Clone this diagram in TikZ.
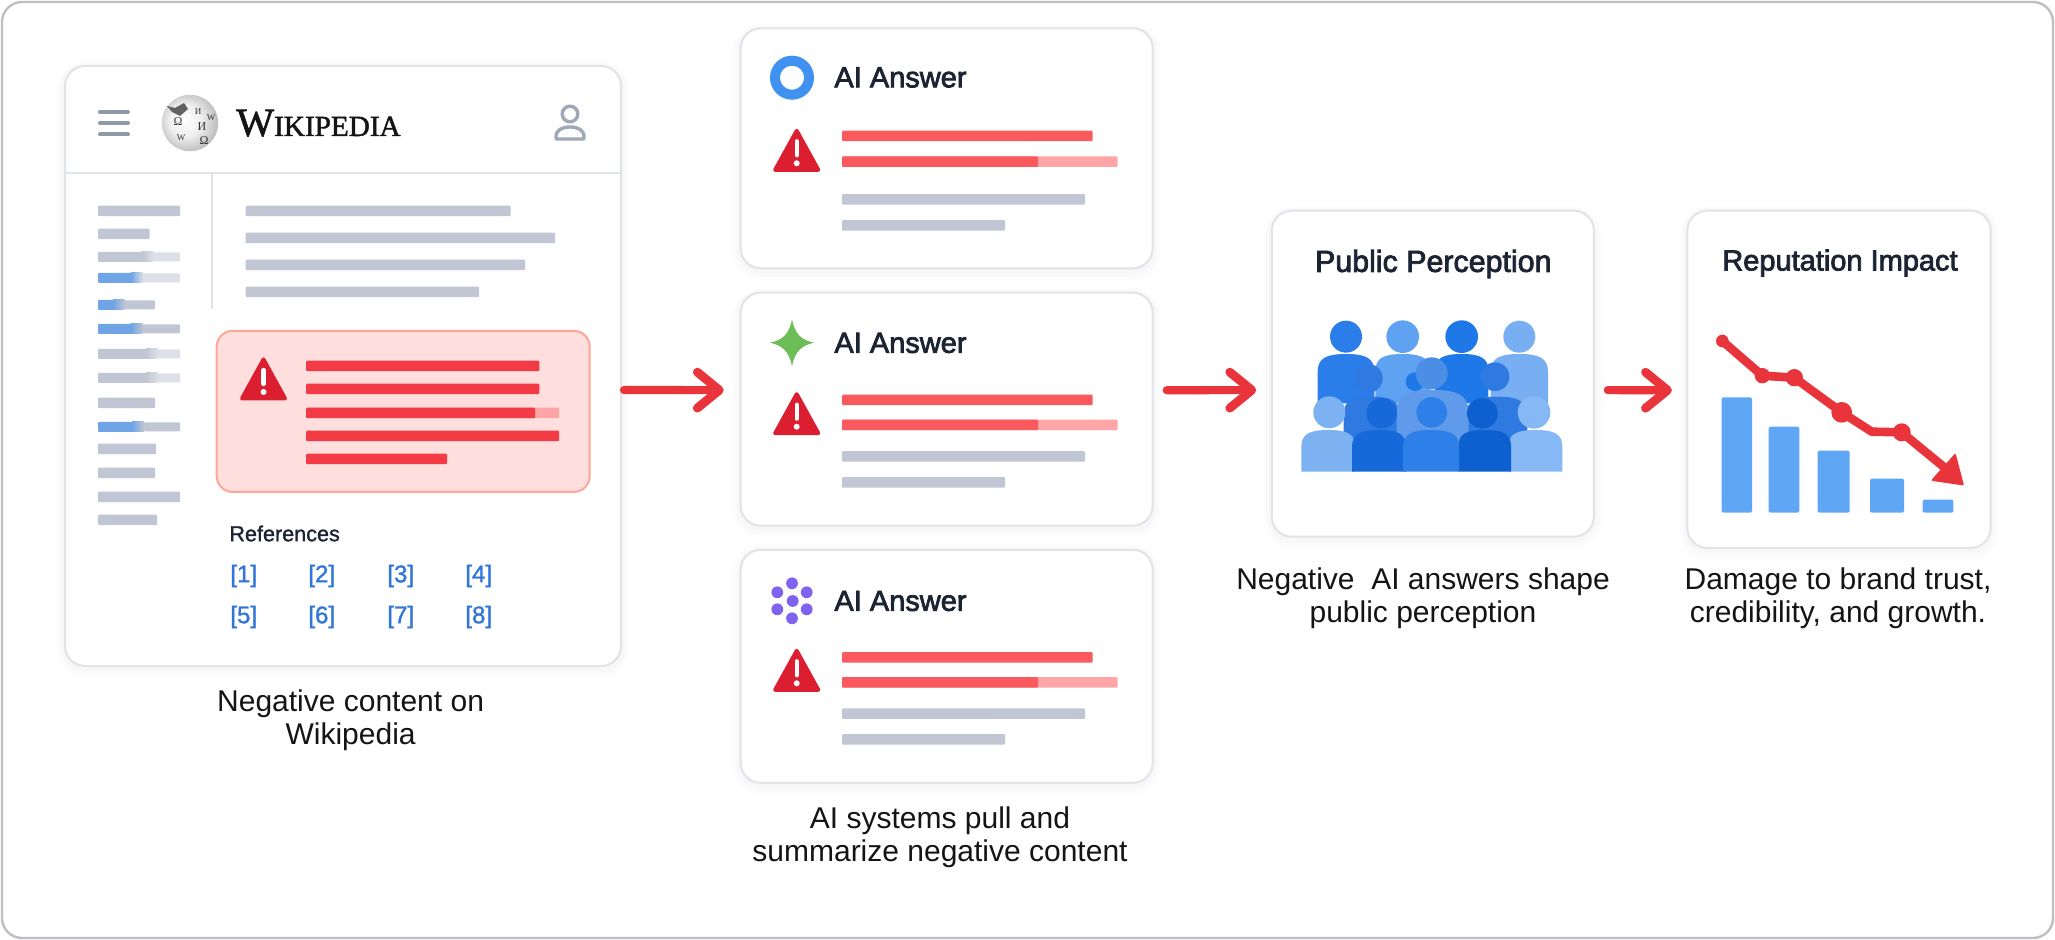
\documentclass[tikz,border=0pt]{standalone}
\usepackage{fontspec}
\setmainfont{Liberation Sans}
\newfontfamily\wikifont[FakeBold=1.6]{Liberation Serif}
\newfontfamily\plainserif{Liberation Serif}
\newfontfamily\semifont[FakeBold=2.6]{Liberation Sans}
\newfontfamily\medfont[FakeBold=1.2]{Liberation Sans}
\usetikzlibrary{arrows.meta,calc}
\definecolor{edgec}{HTML}{E0E3E8}
\definecolor{frameg}{HTML}{BDBFC2}
\definecolor{barg}{HTML}{C0C6D3}
\definecolor{barl}{HTML}{DDE0E6}
\definecolor{sblue}{HTML}{6FA4E6}
\definecolor{redb}{HTML}{F23B44}
\definecolor{cred}{HTML}{FA5A5E}
\definecolor{cpale}{HTML}{FDA5A7}
\definecolor{warnred}{HTML}{DC1F30}
\definecolor{flowred}{HTML}{EA343B}
\definecolor{ink}{HTML}{1C2333}
\definecolor{refblue}{HTML}{2F76D8}
\definecolor{icong}{HTML}{8F99A8}
\definecolor{usric}{HTML}{9EA8B6}
\definecolor{barb}{HTML}{5FA6F5}
\pgfdeclareradialshading{globeshade}{\pgfpoint{-6bp}{3bp}}{color(0bp)=(white);color(14bp)=(black!6);color(26bp)=(black!24);color(38bp)=(black!42);color(50bp)=(black!58)}
\tikzset{
  card/.style={draw=edgec,line width=1pt,fill=white,rounded corners=10pt,inner sep=0pt,
    preaction={draw=black,draw opacity=.008,line width=9pt,transform canvas={yshift=-2pt}},
    preaction={draw=black,draw opacity=.01,line width=6pt,transform canvas={yshift=-1.5pt}},
    preaction={draw=black,draw opacity=.012,line width=3pt,transform canvas={yshift=-1pt}}},
  flow/.style={draw=flowred,line width=4.1pt,line cap=round,
    -{Straight Barb[length=11pt,width=18pt,round,line width=4.4pt]}},
  caption/.style={align=center,font=\fontsize{15}{16.5}\selectfont,text=black!92,inner sep=0pt},
  cardtitle/.style={font=\semifont\fontsize{14.5}{16}\selectfont,text=ink,inner sep=0pt},
  refn/.style={font=\medfont\fontsize{12}{14}\selectfont,text=refblue,anchor=west,inner sep=0pt},
  globeglyph/.style={inner sep=0pt,font=\plainserif\fontsize{6}{6}\selectfont,text=black!80}
}
% horizontal bar: x0, yc, x1, colour
\newcommand\hb[4]{\fill[#4,rounded corners=.5pt] (#1,{#2-5.25}) rectangle (#3,{#2+5.25});}
% faded bar: x0,yc,xm,x1,colour1,colour2
\newcommand\fb[6]{\fill[#5,rounded corners=.5pt] (#1,{#2-5}) rectangle (#3,{#2+5});
  \shade[left color=#5,right color=#6] (#3-8,{#2-5}) rectangle (#3+4,{#2+5});
  \fill[#6,rounded corners=.5pt] (#3+4,{#2-4.5}) rectangle (#4,{#2+4.5});}
% warning triangle: centre x, top y
\newcommand\warn[2]{\fill[warnred,line join=round,draw=warnred,line width=2pt]
    (#1,{#2+2.5}) -- ({#1+21.5},{#2+41.5}) -- ({#1-21.5},{#2+41.5}) -- cycle;
  \draw[white,line width=2.1pt,line cap=round] (#1,{#2+13}) -- (#1,{#2+27});
  \fill[white] (#1,{#2+35}) circle[radius=3];}
% AI card contents
\newcommand\cardbars[5]{\warn{796.7}{#1}
  \hb{842}{#2}{1092.7}{cred}
  \hb{842}{#3}{1117.7}{cpale}
  \hb{842}{#3}{1038}{cred}
  \hb{842}{#4}{1085}{barg}
  \hb{842}{#5}{1005}{barg}}
% person: cx, half width, top, bottom, colour (crowd units)
\newcommand\pbody[5]{\fill[#5] ({#1-#2},#4) -- ({#1-#2},{#3+0.62*#2})
  .. controls ({#1-#2},{#3+0.14*#2}) and ({#1-0.68*#2},#3) .. (#1,#3)
  .. controls ({#1+0.68*#2},#3) and ({#1+#2},{#3+0.14*#2}) .. ({#1+#2},{#3+0.62*#2})
  -- ({#1+#2},#4) -- cycle;}
\begin{document}
\begin{tikzpicture}[x=0.5pt,y=-0.5pt]
\useasboundingbox (0,0) rectangle (2055,940);
\fill[white] (0,0) rectangle (2055,940);
\node[draw=frameg,line width=1.2pt,fill=white,rounded corners=10pt,minimum width=1025.5pt,minimum height=468pt,inner sep=0pt] (frame) at (1027.5,470) {};

% cards
\node[card,minimum width=278pt,minimum height=300pt] (wiki) at (343,366) {};
\node[card,minimum width=206pt,minimum height=120pt] (ai1) at (946.7,148.3) {};
\node[card,minimum width=206pt,minimum height=116.5pt] (ai2) at (946.7,409.2) {};
\node[card,minimum width=206pt,minimum height=116.5pt] (ai3) at (946.7,666.3) {};
\node[card,minimum width=161pt,minimum height=163pt] (pub) at (1432.8,373.7) {};
\node[card,minimum width=151.7pt,minimum height=168.6pt] (rep) at (1839,379.3) {};

% connectors
\draw[flow,shorten <=1pt,shorten >=8pt] ([yshift=-12pt]wiki.east) -- ([yshift=9.5pt]ai2.west);
\draw[flow,shorten <=6.5pt,shorten >=7.3pt] ([yshift=9.5pt]ai2.east) -- ([yshift=-8.2pt]pub.west);
\draw[flow,shorten <=6.5pt,shorten >=7.2pt] ([yshift=-8.2pt]pub.east) -- ([yshift=-5.5pt]rep.west);

% wiki header
\draw[edgec,line width=.9pt] (65,173) -- (621,173);
\draw[edgec,line width=.7pt] (212,173) -- (212,309);
\foreach \yy in {112,123.3,134.5}{\draw[icong,line width=2pt,line cap=round] (100,\yy) -- (128,\yy);}
\shade[shading=globeshade] (190,123) circle[radius=28.2];
\fill[black!62] (167,106) -- (175,108) -- (184,103) -- (188,109) -- (180,116) -- (172,112) -- cycle;
\node[globeglyph] (gla) at (178,122) {Ω};
\node[globeglyph] (glb) at (202,127) {И};
\node[globeglyph] (glc) at (204,141) {Ω};
\node[globeglyph,font=\plainserif\fontsize{4.5}{5}\selectfont] (gld) at (181,138) {W};
\node[globeglyph,font=\plainserif\fontsize{4.5}{5}\selectfont] (gle) at (198,112) {И};
\node[globeglyph,font=\plainserif\fontsize{4.5}{5}\selectfont] (glf) at (211,118) {W};
\node[anchor=base west,inner sep=0pt,text=black!92,font=\wikifont] (wlogo) at (236,136) {{\fontsize{20}{20}\selectfont W}{\fontsize{14.6}{20}\selectfont IKIPEDIA}};
\draw[usric,line width=1.7pt] (570,114) circle[radius=7.8];
\draw[usric,line width=1.7pt,line join=round] (556,139) -- (556,137) .. controls (556,130) and (562,127) .. (570,127) .. controls (578,127) and (584,130) .. (584,137) -- (584,139) -- cycle;

% wiki sidebar
\hb{98}{211}{180}{barg}
\hb{98}{234}{149.5}{barg}
\fb{98}{257}{149.5}{180}{barg}{barl}
\fb{98}{278}{139}{180}{sblue}{barl}
\fb{98}{305}{121}{155}{sblue}{barg}
\fb{98}{329}{139}{180}{sblue}{barg}
\fb{98}{354}{154}{180}{barg}{barl}
\fb{98}{378}{154}{180}{barg}{barl}
\hb{98}{403}{155}{barg}
\fb{98}{427}{140}{180}{sblue}{barg}
\hb{98}{449}{156}{barg}
\hb{98}{473}{155}{barg}
\hb{98}{497}{180}{barg}
\hb{98}{520}{157}{barg}

% wiki main lines
\hb{245.6}{211}{510.5}{barg}
\hb{245.6}{238}{555}{barg}
\hb{245.6}{265}{525}{barg}
\hb{245.6}{292}{479}{barg}

% negative box
\node[draw=red!75!orange!40,line width=1pt,fill=red!13!white,rounded corners=8pt,minimum width=186.5pt,minimum height=80.6pt,inner sep=0pt] (neg) at (403.2,411.4) {};
\warn{263.5}{357}
\hb{306}{366}{539.4}{redb}
\hb{306}{389}{539.4}{redb}
\hb{306}{413}{559}{cpale}
\hb{306}{413}{535}{redb}
\hb{306}{436}{559}{redb}
\hb{306}{459}{447}{redb}

% references
\node[anchor=west,inner sep=0pt,font=\medfont\fontsize{10.8}{13}\selectfont,text=ink] (refs) at (229,533.5) {References};
\node[refn] (r1) at (230,576) {[1]};
\node[refn] (r2) at (308,576) {[2]};
\node[refn] (r3) at (387,576) {[3]};
\node[refn] (r4) at (465,576) {[4]};
\node[refn] (r5) at (230,617) {[5]};
\node[refn] (r6) at (308,617) {[6]};
\node[refn] (r7) at (387,617) {[7]};
\node[refn] (r8) at (465,617) {[8]};
\node[caption] (capa) at (350.6,720) {Negative content on\\Wikipedia};

% AI card 1
\draw[color={rgb,255:red,63;green,146;blue,240},line width=5pt] (792,77.7) circle[radius=17];
\node[cardtitle,anchor=west] (t1) at (834,77.5) {AI Answer};
\cardbars{128.3}{136}{161.7}{199.3}{225.3}
% AI card 2
\fill[color={rgb,255:red,109;green,190;blue,87}] (792,319.5) .. controls (795,334) and (801,340) .. (814,342.7) .. controls (801,345.5) and (795,352) .. (792,366) .. controls (789,352) and (783,345.5) .. (770,342.7) .. controls (783,340) and (789,334) .. cycle;
\node[cardtitle,anchor=west] (t2) at (834,343) {AI Answer};
\cardbars{391.7}{400}{425}{456.3}{482.3}
% AI card 3
\foreach \dx/\dy in {0/-17.7,-14.7/-8.7,14.7/-8.7,-14.7/8.3,14.7/8.3,0/17.3,0.7/0}{\fill[color={rgb,255:red,127;green,99;blue,240}] (792+\dx,601+\dy) circle[radius=5.9];}
\node[cardtitle,anchor=west] (t3) at (834,601) {AI Answer};
\cardbars{648.3}{657.3}{682.3}{713.7}{739.3}
\node[caption] (capb) at (940,836.8) {AI systems pull and\\summarize negative content};

% public perception
\node[cardtitle,font=\semifont\fontsize{15.2}{16}\selectfont] (tp) at (1433.3,264) {Public Perception};
\begin{scope}[shift={(1240,200)},x=0.16667pt,y=-0.16667pt]
 \definecolor{pa}{HTML}{2B7EEA}\definecolor{pb}{HTML}{5FA2F2}\definecolor{pc}{HTML}{1F78E8}\definecolor{pd}{HTML}{78AEF2}
 \pbody{838}{86}{462}{610}{pd}\fill[pd] (838,410) circle[radius=48];
 \pbody{665}{80}{462}{610}{pc}\fill[pc] (665,410) circle[radius=49];
 \pbody{488}{82}{462}{610}{pb}\fill[pb] (488,410) circle[radius=49];
 \pbody{318}{85}{462}{610}{pa}\fill[pa] (318,410) circle[radius=48];
 \fill[pc] (525,545) circle[radius=28];
 \definecolor{pe}{HTML}{2E7AE0}\definecolor{pf}{HTML}{5F9BEA}\definecolor{pg}{HTML}{4B8EE6}
 \fill[pe] (385,535) circle[radius=43];
 \fill[pe] (765,530) circle[radius=43];
 \pbody{395}{84}{590}{760}{pe}
 \pbody{770}{92}{590}{760}{pe}
 \pbody{578}{108}{570}{760}{pf}
 \fill[pg] (575,520) circle[radius=48];
 \definecolor{ph}{HTML}{7CB2F2}\definecolor{pi}{HTML}{1769DA}\definecolor{pj}{HTML}{2E7FE8}\definecolor{pk}{HTML}{0E5FCF}\definecolor{pl}{HTML}{85B8F4}
 \pbody{265}{81}{690}{815}{ph}\fill[ph] (268,637) circle[radius=48];
 \pbody{886}{81}{690}{815}{pl}\fill[pl] (882,637) circle[radius=49];
 \pbody{417}{81}{690}{815}{pi}\fill[pi] (425,640) circle[radius=46];
 \pbody{734}{79}{690}{815}{pk}\fill[pk] (727,640) circle[radius=46];
 \pbody{573}{84}{690}{815}{pj}\fill[pj] (575,637) circle[radius=46];
\end{scope}
\node[caption] (capc) at (1423,598.5) {Negative\ \ AI answers shape\\public perception};

% reputation impact
\node[cardtitle] (tr) at (1840,263) {Reputation Impact};
\begin{scope}[shift={(1600,200)},x=0.16667pt,y=-0.16667pt]
 \foreach \ba/\bb/\bt in {365/456/592,506/598/680,653/749/752,810/912/836,968/1060/899}{
   \fill[barb,rounded corners=1pt] (\ba,\bt) rectangle (\bb,938);}
 \draw[flowred,line width=4.3pt,line join=round] (367,423) -- (487,527) -- (583,533) -- (725,637) -- (815,695) -- (905,697) -- (1040,808);
 \fill[flowred,draw=flowred,line width=1pt,line join=round] (1065,765) -- (1088,853) -- (998,840) -- cycle;
 \foreach \cx/\cy/\cr in {367/423/19,487/527/23,583/533/26,725/637/31,905/697/27}{\fill[flowred] (\cx,\cy) circle[radius=\cr];}
\end{scope}
\node[caption] (capd) at (1838,598.5) {Damage to brand trust,\\credibility, and growth.};
\end{tikzpicture}
\end{document}
